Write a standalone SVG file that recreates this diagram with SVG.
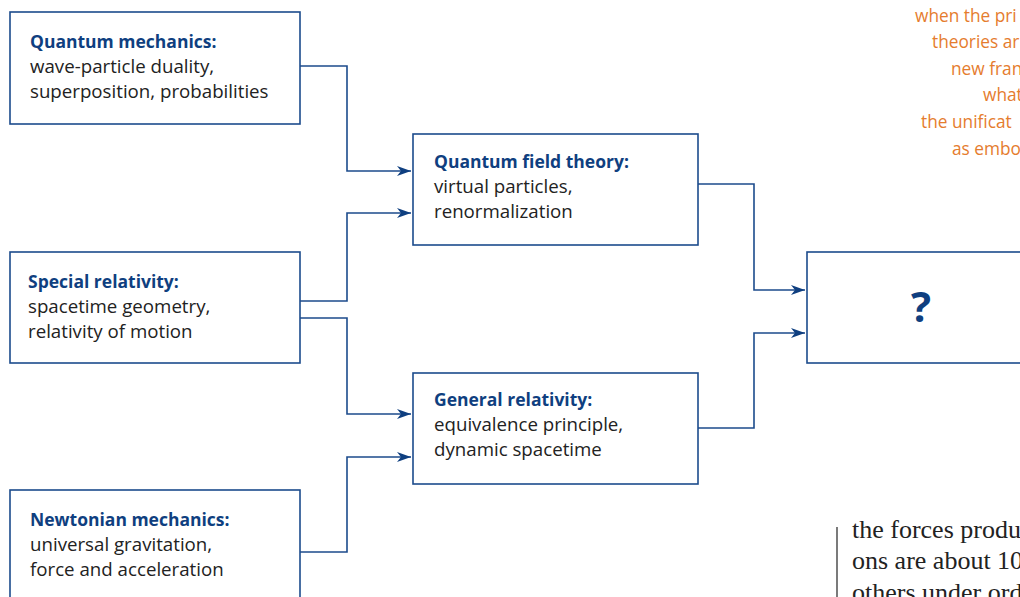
<svg xmlns="http://www.w3.org/2000/svg" width="1020" height="597" viewBox="0 0 1020 597">
<defs>
<marker id="arr" viewBox="0 0 14 10" refX="14" refY="5" markerWidth="14" markerHeight="10" markerUnits="userSpaceOnUse" orient="auto">
<path d="M0,0 L14,5 L0,10 L4,5 z" fill="#0f3f80"/>
</marker>
<style>
.box{fill:#fff;stroke:#1c4b8c;stroke-width:1.6}
.t{font-family:"Open Sans","Liberation Sans",sans-serif;font-size:17.5px;font-weight:bold;fill:#0f3f80}
.b{font-family:"Open Sans","Liberation Sans",sans-serif;font-size:18.7px;fill:#222}
.c{fill:none;stroke:#1c4b8c;stroke-width:1.6}
.o{font-family:"Open Sans","Liberation Sans",sans-serif;font-size:17.3px;fill:#e57c2e}
.s{font-family:"Liberation Serif",serif;font-size:26px;fill:#222}
</style>
</defs>
<rect width="1020" height="597" fill="#fff"/>
<g id="side-text">
<text class="o" x="915" y="22">when the pri</text>
<text class="o" x="932" y="48">theories ar</text>
<text class="o" x="951" y="75">new fran</text>
<text class="o" x="983" y="101">what</text>
<text class="o" x="921" y="128">the unificat</text>
<text class="o" x="952" y="155">as embo</text>
<line x1="837" y1="527" x2="837" y2="597" stroke="#222" stroke-width="1.2"/>
<text class="s" x="852" y="538">the forces produ</text>
<text class="s" x="852" y="569">ons are about 10</text>
<text class="s" x="852" y="601">others under ord</text>
</g>
<g id="connectors">
<polyline class="c" points="300,66 347,66 347,171 411,171" marker-end="url(#arr)"/>
<polyline class="c" points="300,301 347,301 347,213 411,213" marker-end="url(#arr)"/>
<polyline class="c" points="300,318 347,318 347,414 411,414" marker-end="url(#arr)"/>
<polyline class="c" points="300,552 347,552 347,457 411,457" marker-end="url(#arr)"/>
<polyline class="c" points="698,184 754,184 754,290 805,290" marker-end="url(#arr)"/>
<polyline class="c" points="698,428 754,428 754,333 805,333" marker-end="url(#arr)"/>
</g>
<g id="quantum-mechanics">
<rect class="box" x="10" y="12" width="290" height="112"/>
<text class="t" x="30" y="48">Quantum mechanics:</text>
<text class="b" x="30" y="73">wave-particle duality,</text>
<text class="b" x="30" y="98">superposition, probabilities</text>
</g>
<g id="special-relativity">
<rect class="box" x="10" y="252" width="290" height="111"/>
<text class="t" x="28" y="288">Special relativity:</text>
<text class="b" x="28" y="313">spacetime geometry,</text>
<text class="b" x="28" y="338">relativity of motion</text>
</g>
<g id="newtonian-mechanics">
<rect class="box" x="10" y="490" width="290" height="120"/>
<text class="t" x="30" y="526">Newtonian mechanics:</text>
<text class="b" x="30" y="551">universal gravitation,</text>
<text class="b" x="30" y="576">force and acceleration</text>
</g>
<g id="quantum-field-theory">
<rect class="box" x="413" y="134" width="285" height="111"/>
<text class="t" x="434" y="168">Quantum field theory:</text>
<text class="b" x="434" y="193">virtual particles,</text>
<text class="b" x="434" y="218">renormalization</text>
</g>
<g id="general-relativity">
<rect class="box" x="413" y="373" width="285" height="111"/>
<text class="t" x="434" y="406">General relativity:</text>
<text class="b" x="434" y="431">equivalence principle,</text>
<text class="b" x="434" y="456">dynamic spacetime</text>
</g>
<g id="unknown">
<rect class="box" x="807" y="252" width="230" height="111"/>
<text x="921" y="322" text-anchor="middle" style="font-family:'Open Sans','Liberation Sans',sans-serif;font-size:42px;font-weight:bold;fill:#0f3f80">?</text>
</g>
</svg>
